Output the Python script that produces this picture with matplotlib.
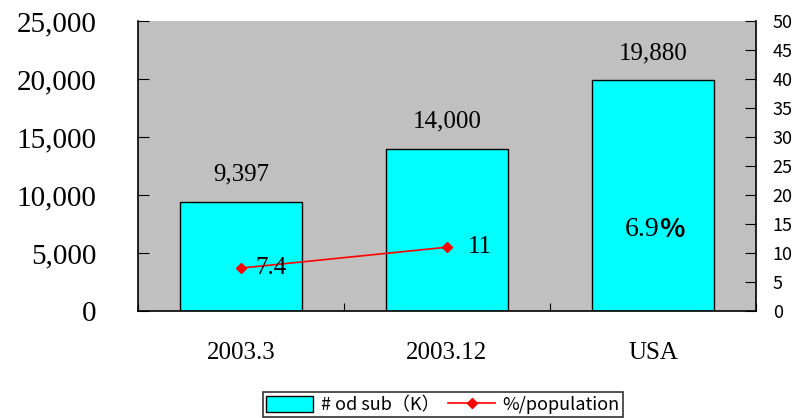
import matplotlib.pyplot as plt
from matplotlib.lines import Line2D
from matplotlib.patches import Patch

categories = ['2003.3', '2003.12', 'USA']
subs = [9397, 14000, 19880]
sub_labels = ['9,397', '14,000', '19,880']
pct = [7.4, 11]
left_ticks = [0, 5000, 10000, 15000, 20000, 25000]
left_tick_labels = ['0', '5,000', '10,000', '15,000', '20,000', '25,000']
right_ticks = list(range(0, 55, 5))

serif = 'Liberation Serif'
sans = ['Noto Sans CJK JP', 'DejaVu Sans']

fig = plt.figure(figsize=(8.02, 4.18), dpi=100)
ax = fig.add_axes([138 / 802, 1 - 311 / 418, 618 / 802, 290 / 418])
ax.set_facecolor('#c0c0c0')

x = list(range(len(categories)))
ax.bar(x, subs, width=0.59, color='#00ffff', edgecolor='black', linewidth=1, zorder=2)
ax.set_xlim(-0.5, 2.5)
ax.set_ylim(0, 25000)
ax.set_yticks(left_ticks)
ax.set_yticklabels(left_tick_labels, family=serif, fontsize=21)
ax.set_xticks([-0.5, 0.5, 1.5, 2.5])
ax.set_xticklabels([])
ax.set_xticks(x, minor=True)
ax.set_xticklabels(categories, minor=True, family=serif, fontsize=18)
ax.tick_params(axis='x', which='minor', length=0, pad=22)
ax.tick_params(axis='x', which='major', direction='in', length=6)
ax.tick_params(axis='y', direction='in', length=8, pad=30)
ax.spines['top'].set_visible(False)
ax.spines['right'].set_visible(False)
for s in ['left', 'bottom']:
    ax.spines[s].set_linewidth(1.2)

for xi, v, t in zip(x, subs, sub_labels):
    ax.text(xi, v + 1400, t, ha='center', va='bottom', family=serif, fontsize=18)

ax.text(2.03, 7000, '6.9', ha='right', va='center', family=serif, fontsize=20)
ax.text(2.03, 7000, '%', ha='left', va='center', family=sans, fontsize=19, fontweight='bold')

ax2 = ax.twinx()
ax2.set_ylim(0, 50)
ax2.set_yticks(right_ticks)
ax2.set_yticklabels([str(t) for t in right_ticks], family=sans, fontsize=13)
ax2.tick_params(axis='y', direction='in', length=8, pad=12)
ax2.spines['top'].set_visible(False)
ax2.spines['left'].set_visible(False)
ax2.spines['bottom'].set_visible(False)
ax2.spines['right'].set_linewidth(1.2)
ax2.plot(x[:2], pct, color='red', lw=1.2, marker='D', markersize=5, zorder=3)
ax2.text(x[0] + 0.07, pct[0], str(pct[0]), ha='left', va='center', family=serif, fontsize=18)
ax2.text(x[1] + 0.1, pct[1], str(int(pct[1])), ha='left', va='center', family=serif, fontsize=18)

handles = [Patch(facecolor='#00ffff', edgecolor='black'),
           Line2D([0], [0], color='red', marker='D', markersize=5, lw=1.2)]
leg = fig.legend(handles, ['# od sub（K）', '%/population'], loc='upper center',
                 bbox_to_anchor=(443 / 802, 1 - 392 / 418), borderaxespad=0,
                 ncol=2, frameon=True, fancybox=False, edgecolor='black',
                 prop={'family': sans, 'size': 13},
                 handlelength=2.6, handleheight=1.0, handletextpad=0.4,
                 columnspacing=0.5, borderpad=0.2)
leg.get_frame().set_linewidth(1.2)

fig.savefig('out.png', dpi=100)
